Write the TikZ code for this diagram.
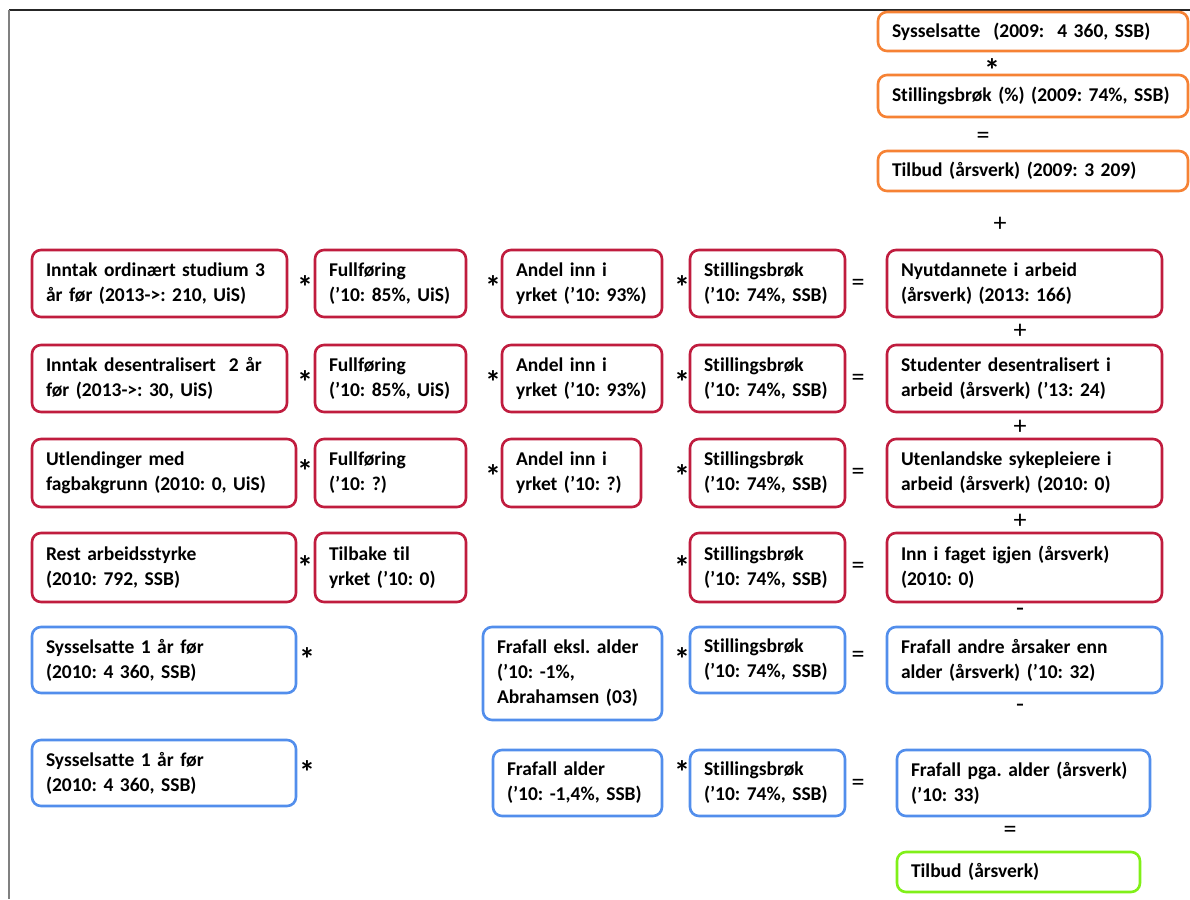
\documentclass[tikz,border=0pt]{standalone}
\usepackage{fontspec}
\setmainfont{Carlito}[Ligatures=NoCommon,WordSpace=0.85]
\frenchspacing
\definecolor{cRed}{RGB}{192,28,62}
\definecolor{cOr}{RGB}{246,130,52}
\definecolor{cBl}{RGB}{82,142,236}
\definecolor{cGr}{RGB}{128,240,24}
\newcommand\Bx[7]{%
  \pgfmathsetlengthmacro\bxw{(#4-#2)*1pt}%
  \pgfmathsetlengthmacro\bxh{(#5-#3)*1pt}%
  \pgfmathsetlengthmacro\bxt{(#4-#2-28)*1pt}%
  \node[bx,draw=#6,minimum width=\bxw,minimum height=\bxh,text width=\bxt] (#1) at ({(#2+#4)/2},{(#3+#5)/2}) {#7};}
\begin{document}
\begin{tikzpicture}[x=1pt,y=-1pt,
  font=\fontsize{19.5}{25}\selectfont\bfseries,
  bx/.style={line width=2.6pt,rounded corners=9pt,align=left,inner xsep=14pt,inner ysep=0pt,anchor=center,rectangle},
  op/.style={inner sep=0pt,font=\fontsize{26}{28}\selectfont},
  st/.style={inner sep=0pt,font=\fontsize{32}{34}\selectfont\bfseries}]
\useasboundingbox (0,0) rectangle (1190,899);
\fill[white] (0,0) rectangle (1190,899);
\draw[line width=1.5pt,black!85] (9,10) -- (1190,10);
\draw[line width=2pt,gray] (9,10) -- (9,899);

% orange
\Bx{o1}{878}{12}{1188}{51}{cOr}{Sysselsatte\ \ (2009:\ \ 4 360, SSB)}
\Bx{o2}{878}{75}{1188}{117}{cOr}{Stillingsbrøk (\%) (2009: 74\%, SSB)}
\Bx{o3}{878}{151}{1188}{191}{cOr}{Tilbud (årsverk) (2009: 3 209)}
\node[st] (s0) at (992,70) {*};
\node[op] (e0) at (983,138) {=};
\node[op] (p0) at (1000,224) {+};

% row 1
\Bx{r1a}{32}{250}{287}{317}{cRed}{Inntak ordinært studium 3\\år før (2013->: 210, UiS)}
\Bx{r1b}{315}{250}{466}{317}{cRed}{Fullføring\\(’10: 85\%, UiS)}
\Bx{r1c}{502}{250}{662}{317}{cRed}{Andel inn i\\yrket (’10: 93\%)}
\Bx{r1d}{690}{250}{845}{317}{cRed}{Stillingsbrøk\\(’10: 74\%, SSB)}
\Bx{r1e}{887}{250}{1162}{317}{cRed}{Nyutdannete i arbeid\\(årsverk) (2013: 166)}
\node[st] (s1a) at (305,287) {*};
\node[st] (s1b) at (493,287) {*};
\node[st] (s1c) at (682,287) {*};
\node[op] (e1) at (858,285) {=};
\node[op] (p1) at (1020,331) {+};

% row 2
\Bx{r2a}{32}{345}{287}{412}{cRed}{Inntak desentralisert\ \ 2 år\\før (2013->: 30, UiS)}
\Bx{r2b}{315}{345}{466}{412}{cRed}{Fullføring\\(’10: 85\%, UiS)}
\Bx{r2c}{502}{345}{662}{412}{cRed}{Andel inn i\\yrket (’10: 93\%)}
\Bx{r2d}{690}{345}{845}{412}{cRed}{Stillingsbrøk\\(’10: 74\%, SSB)}
\Bx{r2e}{887}{345}{1162}{412}{cRed}{Studenter desentralisert i\\arbeid (årsverk) (’13: 24)}
\node[st] (s2a) at (305,382) {*};
\node[st] (s2b) at (493,382) {*};
\node[st] (s2c) at (682,382) {*};
\node[op] (e2) at (858,380) {=};
\node[op] (p2) at (1020,427) {+};

% row 3
\Bx{r3a}{32}{439}{296}{507}{cRed}{Utlendinger med\\fagbakgrunn (2010: 0, UiS)}
\Bx{r3b}{315}{439}{466}{507}{cRed}{Fullføring\\(’10: ?)}
\Bx{r3c}{502}{439}{641}{507}{cRed}{Andel inn i\\yrket (’10: ?)}
\Bx{r3d}{690}{439}{845}{507}{cRed}{Stillingsbrøk\\(’10: 74\%, SSB)}
\Bx{r3e}{887}{439}{1162}{507}{cRed}{Utenlandske sykepleiere i\\arbeid (årsverk) (2010: 0)}
\node[st] (s3a) at (305,471) {*};
\node[st] (s3b) at (493,476) {*};
\node[st] (s3c) at (682,476) {*};
\node[op] (e3) at (858,474) {=};
\node[op] (p3) at (1020,521) {+};

% row 4
\Bx{r4a}{32}{533}{296}{602}{cRed}{Rest arbeidsstyrke\\(2010: 792, SSB)}
\Bx{r4b}{315}{533}{466}{602}{cRed}{Tilbake til\\yrket (’10: 0)}
\Bx{r4d}{690}{533}{845}{602}{cRed}{Stillingsbrøk\\(’10: 74\%, SSB)}
\Bx{r4e}{887}{533}{1162}{602}{cRed}{Inn i faget igjen (årsverk)\\(2010: 0)}
\node[st] (s4a) at (305,567) {*};
\node[st] (s4c) at (682,567) {*};
\node[op] (e4) at (858,568) {=};
\node[op] (m4) at (1020,612) {-};

% row 5
\Bx{b5a}{32}{627}{296}{693}{cBl}{Sysselsatte 1 år før\\(2010: 4 360, SSB)}
\Bx{b5c}{483}{627}{662}{720}{cBl}{Frafall eksl. alder\\(’10: -1\%,\\Abrahamsen (03)}
\Bx{b5d}{690}{627}{845}{693}{cBl}{Stillingsbrøk\\(’10: 74\%, SSB)}
\Bx{b5e}{887}{627}{1162}{693}{cBl}{Frafall andre årsaker enn\\alder (årsverk) (’10: 32)}
\node[st] (s5a) at (307,659) {*};
\node[st] (s5c) at (682,659) {*};
\node[op] (e5) at (858,657) {=};
\node[op] (m5) at (1020,708) {-};

% row 6
\Bx{b6a}{32}{740}{296}{806}{cBl}{Sysselsatte 1 år før\\(2010: 4 360, SSB)}
\Bx{b6c}{493}{750}{662}{816}{cBl}{Frafall alder\\(’10: -1,4\%, SSB)}
\Bx{b6d}{690}{750}{845}{816}{cBl}{Stillingsbrøk\\(’10: 74\%, SSB)}
\Bx{b6e}{897}{750}{1150}{816}{cBl}{Frafall pga. alder (årsverk)\\(’10: 33)}
\node[st] (s6a) at (307,772) {*};
\node[st] (s6c) at (682,772) {*};
\node[op] (e6) at (858,785) {=};
\node[op] (e7) at (1010,832) {=};

\Bx{g1}{897}{852}{1140}{892}{cGr}{Tilbud (årsverk)}
\end{tikzpicture}
\end{document}
